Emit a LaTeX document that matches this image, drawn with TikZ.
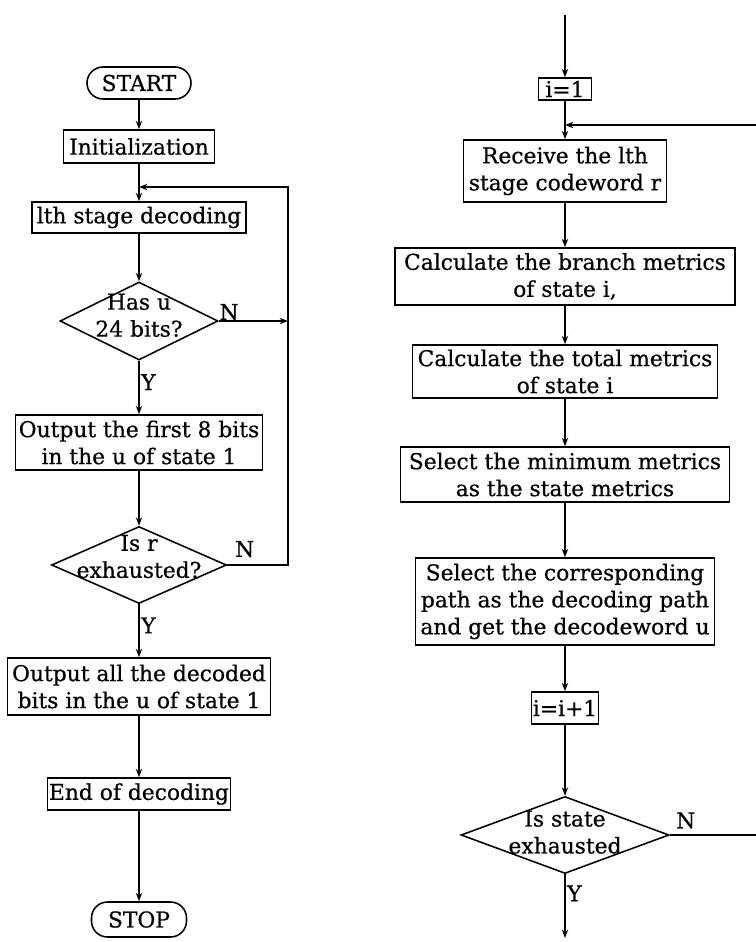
\documentclass[tikz,border=0pt]{standalone}
\usepackage{fontspec}
\setmainfont{DejaVu Serif}[FakeBold=0.6]
\usetikzlibrary{positioning,calc,shapes.geometric,arrows.meta}

\tikzset{
  proc/.style={draw, rectangle, align=center, inner sep=1pt},
  term/.style={draw, rectangle, rounded corners=0.4cm, inner sep=1pt},
  decision/.style={draw, diamond, inner sep=0pt},
  dtext/.style={align=center, inner sep=0pt},
  yn/.style={inner sep=1pt}
}

\begin{document}
\begin{tikzpicture}[x=0.025cm, y=-0.025cm, line width=1.1pt,
    font=\fontsize{15.5}{19.2}\selectfont,
    >={Stealth[length=6pt,width=4.5pt]}]
  \useasboundingbox (0,0) rectangle (756,942);

  % Left chart
  \node[term, minimum width=2.6cm, minimum height=0.8cm] (start) at (139,83) {START};
  \node[proc, minimum width=3.775cm, minimum height=0.825cm] (init) at (139,146.5) {Initialization};
  \node[proc, minimum width=5.35cm, minimum height=0.775cm] (dec) at (139,217.5) {lth stage decoding};
  \node[decision, minimum width=3.95cm, minimum height=1.95cm,
        label={[dtext, yshift=4pt]center:Has u\\24 bits?}] (has) at (139,321) {};
  \node[proc, minimum width=6.175cm, minimum height=1.375cm] (out1) at (139,442.5) {Output the first 8 bits\\in the u of state 1};
  \node[decision, minimum width=4.375cm, minimum height=1.925cm,
        label={[dtext, yshift=6pt]center:Is r\\exhausted?}] (isr) at (139,565) {};
  \node[proc, minimum width=6.575cm, minimum height=1.425cm] (out2) at (139,686.5) {Output all the decoded\\bits in the u of state 1};
  \node[proc, minimum width=4.575cm, minimum height=0.8cm] (endd) at (139,794) {End of decoding};
  \node[term, minimum width=2.375cm, minimum height=0.875cm] (stop) at (139,919.5) {STOP};

  \coordinate (j1) at (139,187);
  \coordinate (rl) at (288,187);

  \draw[->] (start) -- (init);
  \draw[->] (init) -- (dec);
  \draw[->] (dec) -- (has);
  \draw[->] (has) -- node[yn, right, pos=0.4]{Y} (out1);
  \draw[->] (out1) -- (isr);
  \draw[->] (isr) -- node[yn, right, pos=0.4]{Y} (out2);
  \draw[->] (out2) -- (endd);
  \draw[->] (endd) -- (stop);

  % Loop back
  \draw[->] (has.east) -- node[yn, pos=0, above right, inner sep=0pt]{N} (has.east -| rl);
  \draw[->] (isr.east) -- node[yn, pos=0, above right, inner sep=5pt]{N} (isr.east -| rl) -- (rl) -- (j1);

  % Right chart
  \coordinate (top) at (565,15);
  \node[proc, minimum width=1.325cm, minimum height=0.55cm, inner sep=0pt] (i1) at (565,89) {i=1};
  \node[proc, minimum width=5.075cm, minimum height=1.55cm] (recv) at (565,171) {Receive the lth\\stage codeword r};
  \node[proc, minimum width=8.5cm, minimum height=1.425cm] (branch) at (565,276.5) {Calculate the branch metrics\\of state i,};
  \node[proc, minimum width=7.625cm, minimum height=1.325cm] (total) at (565,371.5) {Calculate the total metrics\\of state i};
  \node[proc, minimum width=8.225cm, minimum height=1.375cm] (selmin) at (565,474.5) {Select the minimum metrics\\as the state metrics};
  \node[proc, minimum width=7.475cm, minimum height=2.175cm] (selpath) at (565,601.5) {Select the corresponding\\path as the decoding path\\and get the decodeword u};
  \node[proc, minimum width=1.65cm, minimum height=0.8cm] (inc) at (565,708) {i=i+1};
  \node[decision, minimum width=5.2cm, minimum height=1.925cm,
        label={[dtext, yshift=2pt]center:Is state\\exhausted}] (exh) at (565,835) {};

  \coordinate (j2) at (565,125);
  \coordinate (rr) at (756,125);
  \coordinate (bot) at (565,938);

  \draw[->] (top) -- (i1);
  \draw[->] (i1) -- (recv);
  \draw[->] (rr) -- (j2);
  \draw[->] (recv) -- (branch);
  \draw[->] (branch) -- (total);
  \draw[->] (total) -- (selmin);
  \draw[->] (selmin) -- (selpath);
  \draw[->] (selpath) -- (inc);
  \draw[->] (inc) -- (exh);
  \draw[->] (exh) -- node[yn, right, pos=0.3]{Y} (bot);
  \draw (exh.east) -- node[yn, pos=0, above right, inner sep=4pt]{N} (exh.east -| rr);
\end{tikzpicture}
\end{document}
